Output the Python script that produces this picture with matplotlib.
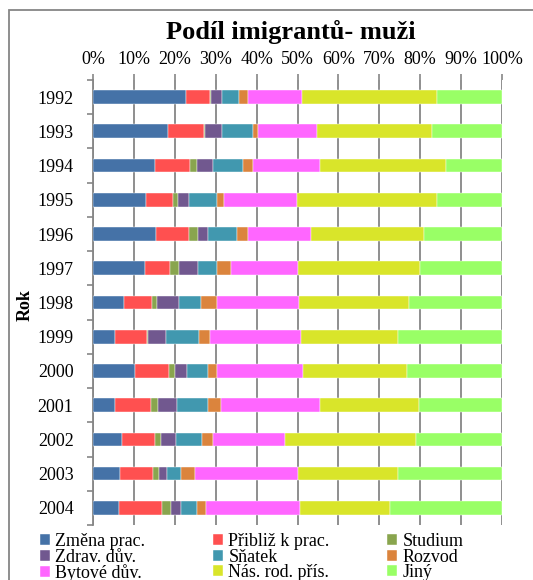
import numpy as np
import matplotlib
matplotlib.use("Agg")
import matplotlib.pyplot as plt
from matplotlib.patches import Rectangle

plt.rcParams['font.family'] = ['Liberation Serif', 'DejaVu Serif']

years = ['1992', '1993', '1994', '1995', '1996', '1997', '1998',
         '1999', '2000', '2001', '2002', '2003', '2004']

reasons = ['Změna prac.', 'Přibliž k prac.', 'Studium',
           'Zdrav. dův.', 'Sňatek', 'Rozvod',
           'Bytové dův.', 'Nás. rod. přís.', 'Jiný']

# share of each reason in percent, one list per reason (1992 .. 2004)
zmena_prac = [22.8, 18.3, 15.1, 12.9, 15.3, 12.6, 7.6, 5.4, 10.2, 5.5, 7.0, 6.5, 6.3]
pribliz = [5.7, 8.8, 8.6, 6.7, 8.1, 6.2, 6.8, 7.9, 8.4, 8.6, 8.2, 8.2, 10.5]
studium = [0.4, 0.2, 1.7, 1.1, 2.3, 2.3, 1.3, 0.1, 1.5, 1.9, 1.5, 1.5, 2.2]
zdrav = [2.6, 4.3, 3.9, 2.8, 2.5, 4.5, 5.3, 4.5, 2.9, 4.6, 3.7, 1.9, 2.5]
snatek = [4.2, 7.6, 7.4, 6.8, 7.0, 4.7, 5.5, 7.9, 5.2, 7.5, 6.3, 3.3, 3.9]
rozvod = [2.3, 1.1, 2.5, 1.8, 2.6, 3.5, 3.8, 2.7, 2.1, 3.2, 2.6, 3.6, 2.3]
bytove = [13.2, 14.4, 16.2, 17.8, 15.5, 16.3, 20.0, 22.3, 21.1, 24.1, 17.6, 25.1, 23.0]
nas_rod = [32.9, 28.3, 30.9, 34.3, 27.6, 29.9, 27.0, 23.7, 25.4, 24.2, 32.1, 24.5, 21.9]
jiny = [15.9, 17.0, 13.7, 15.8, 19.1, 20.0, 22.7, 25.5, 23.2, 20.4, 21.0, 25.4, 27.4]

series = [zmena_prac, pribliz, studium, zdrav, snatek, rozvod, bytove, nas_rod, jiny]
colors = ['#4572A7', '#FF5050', '#89A54E', '#71588F', '#4198AF',
          '#DB843D', '#FF66FF', '#D9E52A', '#99FF66']

grid_col = '#868686'

fig = plt.figure(figsize=(5.33, 5.8), dpi=100)
ax = fig.add_axes([93 / 533, 55 / 580, 409 / 533, 445 / 580])

data = np.array(series, dtype=float)
data = data / data.sum(axis=0) * 100
y = np.arange(len(years))
left = np.zeros(len(years))
handles = []
for vals, lab, col in zip(data, reasons, colors):
    h = ax.barh(y, vals, left=left, height=0.4, color=col, label=lab,
                edgecolor='white', linewidth=0.3, zorder=3)
    handles.append(h)
    left += vals

ax.set_xlim(0, 100)
ax.set_ylim(len(years) - 0.5, -0.5)

ax.xaxis.tick_top()
ax.set_xticks(np.arange(0, 101, 10))
ax.set_xticklabels([f'{v}%' for v in range(0, 101, 10)])
ax.tick_params(axis='x', direction='out', length=4, width=1.2, color=grid_col,
               labelsize=13, pad=5)
ax.grid(axis='x', color=grid_col, linewidth=1.3, zorder=0)

ax.set_yticks(y)
ax.set_yticklabels(years)
ax.set_yticks(np.arange(len(years) + 1) - 0.5, minor=True)
ax.tick_params(axis='y', which='major', length=0, labelsize=13, pad=14)
ax.tick_params(axis='y', which='minor', direction='out', length=4, width=1.2,
               color=grid_col)

for side in ['top', 'right', 'bottom']:
    ax.spines[side].set_visible(False)
ax.spines['left'].set_color(grid_col)
ax.spines['left'].set_linewidth(1.3)

fig.text(291 / 533, 1 - 32 / 580, 'Podíl imigrantů- muži', ha='center',
         va='center', fontsize=19, fontweight='bold')
fig.text(25 / 533, 1 - 305 / 580, 'Rok', rotation=90, ha='center',
         va='center', fontsize=13, fontweight='bold')

# outer chart frame
fig.patches.append(Rectangle((9 / 533, -0.2), 1.2, 1.2 - 10 / 580,
                             transform=fig.transFigure, fill=False,
                             edgecolor=grid_col, linewidth=1.3))

# legend in three columns, entries ordered row by row
col_x = [40, 213, 387]
for c in range(3):
    fig.legend(handles[c::3], reasons[c::3], loc='upper left',
               bbox_to_anchor=(col_x[c] / 533, 1 - 533 / 580),
               frameon=False, fontsize=13, handlelength=0.55,
               handleheight=0.55, handletextpad=0.3, labelspacing=-0.08,
               borderpad=0, borderaxespad=0)

fig.savefig('out.png', dpi=100)
